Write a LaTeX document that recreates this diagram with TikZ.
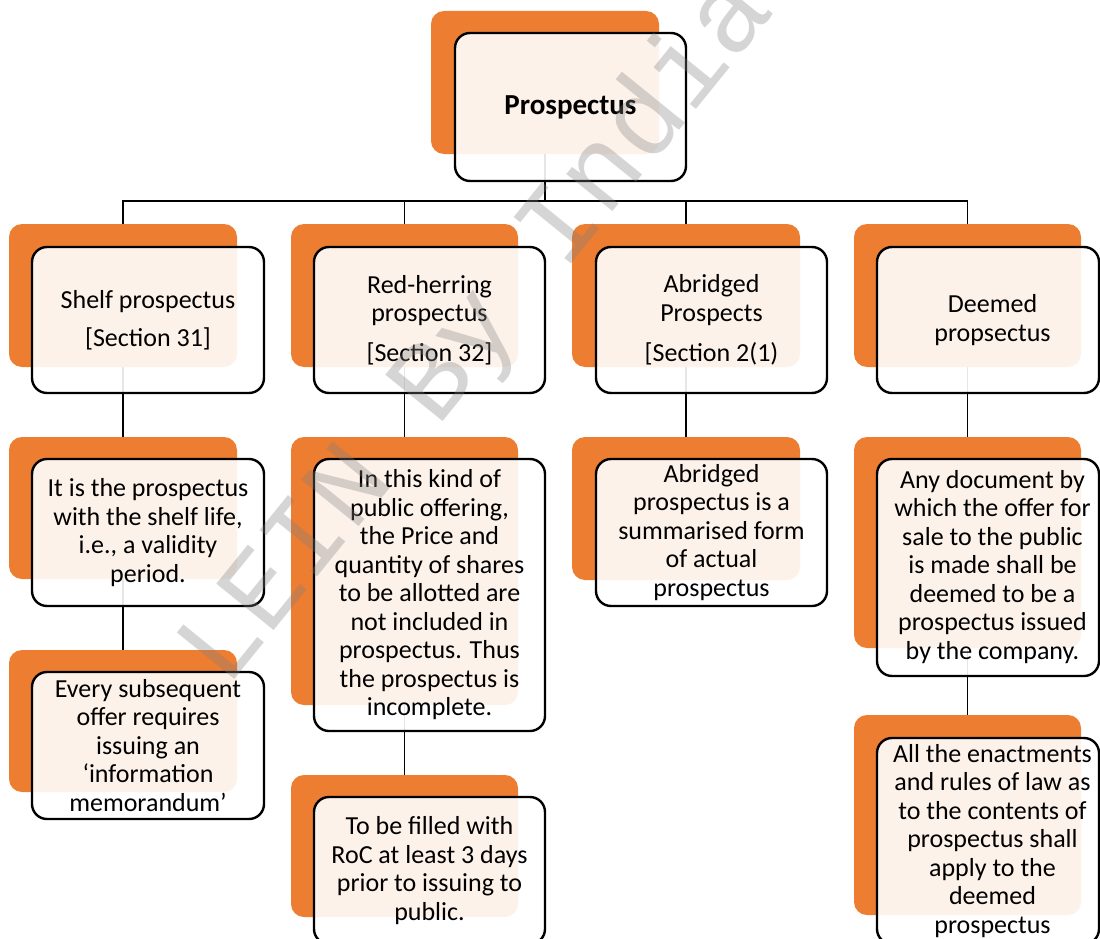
\documentclass[tikz,border=0pt]{standalone}
\usepackage{fontspec}
\setmainfont{Carlito}
\newfontfamily\wmfont{Liberation Mono}
\definecolor{cardorange}{HTML}{ED7D31}
\pgfdeclarelayer{links}
\pgfsetlayers{links,main}
\begin{document}
\begin{tikzpicture}[x=1pt,y=-1pt,
  back/.style={fill=cardorange, draw=none, rounded corners=13pt, inner sep=0pt},
  card/.style={draw=black, line width=2.4pt, fill=white, fill opacity=0.9,
    draw opacity=1, text opacity=1, rounded corners=15pt, inner sep=0pt,
    align=center, font=\fontsize{26}{28.5}\selectfont},
  cardtext/.style={inner sep=0pt, align=center, font=\fontsize{26}{28.5}\selectfont},
  link/.style={draw=black, line width=1.3pt}]
\useasboundingbox (0,0) rectangle (1100,939);
\clip (0,0) rectangle (1100,939);

% root
\node[back, minimum width=228, minimum height=143] (root-o) at (545,82.5) {};
\node[card, minimum width=231, minimum height=148] (root) at (570.5,107)
  {\fontsize{29}{30}\selectfont\bfseries Prospectus};

% first level
\node[back, minimum width=228, minimum height=143] (shelf-o) at (123,295.5) {};
\node[card, minimum width=232, minimum height=146] (shelf) at (148,320)
  {Shelf prospectus\\[9.5pt]{[Section 31]}};

\node[back, minimum width=227, minimum height=143] (red-o) at (404.5,295.5) {};
\node[card, minimum width=231, minimum height=146] (red) at (429.5,320)
  {Red-herring\\prospectus\\[11.5pt]{[Section 32]}};

\node[back, minimum width=228, minimum height=143] (abr-o) at (686,295.5) {};
\node[card, minimum width=231, minimum height=146] (abr) at (711.5,320)
  {Abridged\\Prospects\\[11.5pt]{[Section 2(1)}};

\node[back, minimum width=227, minimum height=143] (deem-o) at (967.5,295.5) {};
\node[card, minimum width=222, minimum height=146] (deem) at (988,320) {};
\node[cardtext] (deem-t) at (992.5,320) {Deemed\\propsectus};

% second level
\node[back, minimum width=228, minimum height=142] (shelf2-o) at (123,508) {};
\node[card, minimum width=232, minimum height=147] (shelf2) at (148,532.5)
  {It is the prospectus\\with the shelf life,\\i.e., a validity\\period.};

\node[back, minimum width=227, minimum height=268] (red2-o) at (404.5,571) {};
\node[card, minimum width=231, minimum height=272] (red2) at (429.5,595)
  {In this kind of\\public offering,\\the Price and\\quantity of shares\\to be allotted are\\not included in\\prospectus. Thus\\the prospectus is\\incomplete.};

\node[back, minimum width=228, minimum height=143] (abr2-o) at (686,508.5) {};
\node[card, minimum width=231, minimum height=147] (abr2) at (711.5,532.5)
  {Abridged\\prospectus is a\\summarised form\\of actual\\prospectus};

\node[back, minimum width=227, minimum height=211] (deem2-o) at (967.5,542.5) {};
\node[card, minimum width=222, minimum height=217] (deem2) at (988,567.5) {};
\node[cardtext] (deem2-t) at (992.5,567) {Any document by\\which the offer for\\sale to the public\\is made shall be\\deemed to be a\\prospectus issued\\by the company.};

% third level
\node[back, minimum width=228, minimum height=142] (shelf3-o) at (123,721) {};
\node[card, minimum width=232, minimum height=147] (shelf3) at (148,745.5)
  {Every subsequent\\offer requires\\issuing an\\‘information\\memorandum’};

\node[back, minimum width=227, minimum height=142] (red3-o) at (404.5,846) {};
\node[card, minimum width=231, minimum height=147] (red3) at (429.5,870.5)
  {To be filled with\\RoC at least 3 days\\prior to issuing to\\public.};

\node[back, minimum width=227, minimum height=200] (deem3-o) at (967.5,815) {};
\node[card, minimum width=222, minimum height=206] (deem3) at (988,841) {};
\node[cardtext] (deem3-t) at (992.5,841) {All the enactments\\and rules of law as\\to the contents of\\prospectus shall\\apply to the\\deemed\\prospectus};

% connectors, drawn beneath the cards
\coordinate (bus) at (545,201);
\begin{pgfonlayer}{links}
  \draw[link] (root-o.south) -- (root-o.south |- bus);
  \draw[link] (shelf-o.north) -- (shelf-o.north |- bus) -- (deem-o.north |- bus) -- (deem-o.north);
  \draw[link] (red-o.north) -- (red-o.north |- bus);
  \draw[link] (abr-o.north) -- (abr-o.north |- bus);
  \draw[link] (shelf-o.south) -- (shelf2-o.north);
  \draw[link] (shelf2-o.south) -- (shelf3-o.north);
  \draw[link] (red-o.south) -- (red2-o.north);
  \draw[link] (red2-o.south) -- (red3-o.north);
  \draw[link] (abr-o.south) -- (abr2-o.north);
  \draw[link] (deem-o.south) -- (deem2-o.north);
  \draw[link] (deem2-o.south) -- (deem3-o.north);
\end{pgfonlayer}

% diagonal watermark
\node[rotate=51, anchor=base west, inner sep=0pt, text=black!50, opacity=0.33,
  font=\wmfont\fontsize{112}{112}\selectfont] (mark) at (226,690) {LEIN By India};
\end{tikzpicture}
\end{document}
